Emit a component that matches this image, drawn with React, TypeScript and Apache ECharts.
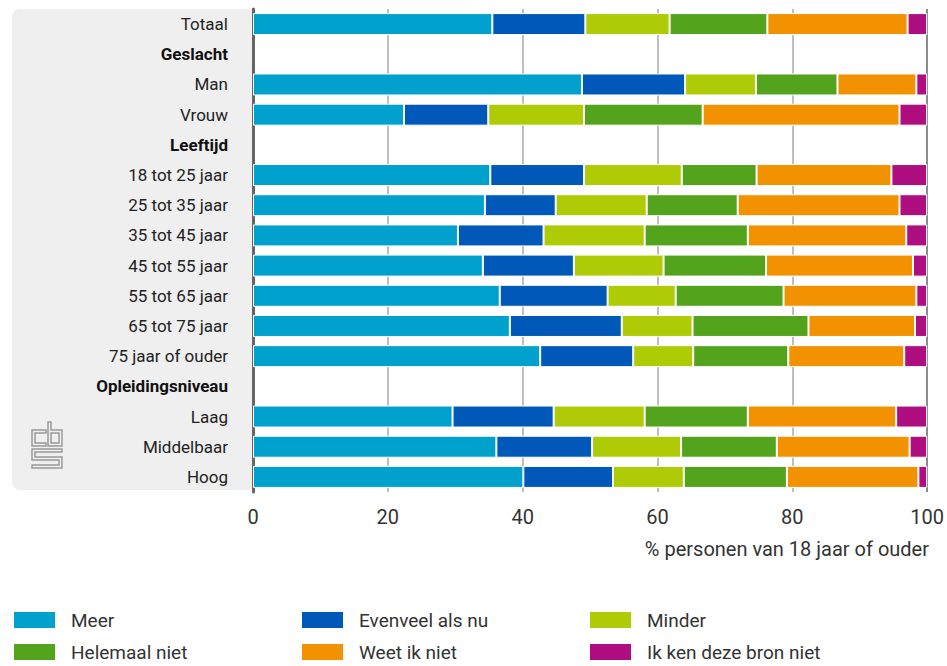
import React, { useEffect, useRef } from "react";
import * as echarts from "echarts";

const categories = [
  "Totaal", "Geslacht", "Man", "Vrouw", "Leeftijd",
  "18 tot 25 jaar", "25 tot 35 jaar", "35 tot 45 jaar", "45 tot 55 jaar",
  "55 tot 65 jaar", "65 tot 75 jaar", "75 jaar of ouder",
  "Opleidingsniveau", "Laag", "Middelbaar", "Hoog",
];
const headers = ["Geslacht", "Leeftijd", "Opleidingsniveau"];

const seriesNames = ["Meer", "Evenveel als nu", "Minder", "Helemaal niet", "Weet ik niet", "Ik ken deze bron niet"];
const colors = ["#00a1cd", "#0058b8", "#afcb05", "#53a31d", "#f39200", "#af0e80"];

const meer = [35.5, null, 48.8, 22.4, null, 35.2, 34.4, 30.4, 34.1, 36.6, 38.1, 42.6, null, 29.6, 36.1, 40.1];
const evenveel = [13.8, null, 15.3, 12.5, null, 13.9, 10.5, 12.7, 13.5, 16.0, 16.6, 13.8, null, 15.0, 14.2, 13.3];
const minder = [12.5, null, 10.5, 14.2, null, 14.5, 13.5, 15.0, 13.3, 10.1, 10.5, 8.9, null, 13.5, 13.2, 10.5];
const helemaal = [14.5, null, 12.1, 17.6, null, 11.1, 13.5, 15.3, 15.2, 16.0, 17.2, 14.1, null, 15.3, 14.2, 15.3];
const weetIkNiet = [20.8, null, 11.7, 29.2, null, 20.0, 24.0, 23.5, 21.8, 19.7, 15.8, 17.2, null, 22.0, 19.7, 19.5];
const kenNiet = [2.9, null, 1.6, 4.1, null, 5.3, 4.1, 3.1, 2.1, 1.6, 1.8, 3.4, null, 4.6, 2.6, 1.3];

const xTicks = [0, 20, 40, 60, 80, 100];
const xAxisTitle = "% personen van 18 jaar of ouder";

const logoPath =
  "M14 8 H0 V24 H14 V21 H3 V11 H14 Z " +
  "M16 0 H19 V8 H30 V24 H16 Z M19 11 V21 H27 V11 Z " +
  "M0 27 H30 V30 H3 V35 H30 V46 H0 V43 H27 V38 H0 Z";

let registered = false;

export default function App() {
  const ref = useRef<HTMLDivElement>(null);
  useEffect(() => {
    if (!ref.current) return;
    if (!registered) {
      echarts.graphic.registerShape("logo", echarts.graphic.extendPath(logoPath, {}));
      registered = true;
    }
    const chart = echarts.init(ref.current, null, { renderer: "svg" });
    const allData = [meer, evenveel, minder, helemaal, weetIkNiet, kenNiet];
    const legendFont = "'Liberation Sans Narrow', 'Roboto', sans-serif";
    const colLeft = [12, 300, 588];
    const rowTop = [610, 642];
    chart.setOption({
      animation: false,
      backgroundColor: "#fff",
      grid: { left: 253, right: 18, top: 9, bottom: 174, containLabel: false },
      legend: seriesNames.map((name, i) => ({
        left: colLeft[i % 3],
        top: rowTop[Math.floor(i / 3)],
        orient: "horizontal",
        data: [name],
        itemWidth: 43,
        itemHeight: 18,
        padding: 0,
        icon: "rect",
        selectedMode: false,
        textStyle: { fontFamily: legendFont, fontSize: 19, lineHeight: 18, color: "#333", padding: [0, 0, 0, 10] },
      })),
      xAxis: {
        type: "value",
        min: 0,
        max: 100,
        interval: 20,
        axisLine: { show: false },
        axisTick: { show: false },
        axisLabel: {
          margin: 15,
          fontFamily: legendFont,
          fontSize: 20,
          color: "#333",
          formatter: (v: number) => (xTicks.includes(v) ? String(v) : ""),
        },
        splitLine: {
          show: true,
          lineStyle: { color: ["#aaa", "#aaa", "#aaa", "#aaa", "#aaa", "#666"], width: 1.5 },
        },
      },
      yAxis: {
        type: "category",
        data: categories,
        inverse: true,
        axisLine: { show: true, lineStyle: { color: "#666", width: 3 } },
        axisTick: { show: false },
        axisLabel: {
          margin: 25,
          fontFamily: "Roboto, sans-serif",
          fontSize: 17,
          color: "#222",
          formatter: (v: string) => (headers.includes(v) ? `{b|${v}}` : v),
          rich: {
            b: { fontFamily: "Roboto, sans-serif", fontSize: 17, fontWeight: "bold", color: "#111" },
          },
        },
      },
      graphic: [
        {
          type: "rect",
          z: -10,
          silent: true,
          shape: { x: 12, y: 9, width: 240, height: 481, r: [8, 0, 0, 8] },
          style: { fill: "#efefef" },
        },
        {
          type: "logo",
          x: 32,
          y: 422,
          silent: true,
          style: { fill: "none", stroke: "#9a9a9a", lineWidth: 1.5 },
        },
        {
          type: "text",
          right: 18,
          top: 539,
          style: { text: xAxisTitle, fontFamily: legendFont, fontSize: 20, fill: "#333" },
        },
      ],
      series: seriesNames.map((name, i) => ({
        name,
        type: "bar",
        stack: "total",
        data: allData[i],
        barWidth: 22,
        itemStyle: { color: colors[i], borderColor: "#fff", borderWidth: 1 },
        emphasis: { disabled: true },
      })),
    });
    return () => chart.dispose();
  }, []);
  return <div ref={ref} style={{ width: 947, height: 666, position: "absolute", left: 0, top: 0 }} />;
}
